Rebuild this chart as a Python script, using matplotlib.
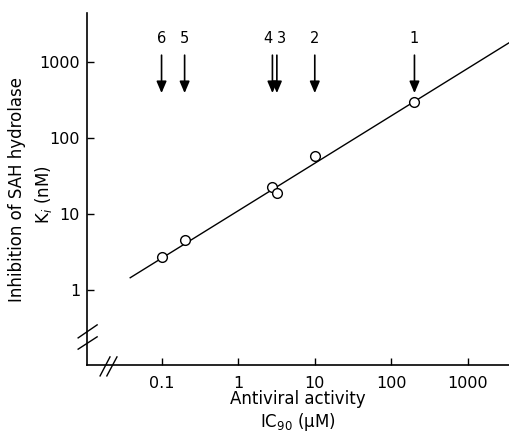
import matplotlib
matplotlib.use("Agg")
import matplotlib.pyplot as plt
from matplotlib.lines import Line2D

plt.rcParams['font.family'] = ['DejaVu Sans']
plt.rcParams['mathtext.fontset'] = 'dejavusans'

# Data
ic90 = [0.1, 0.2, 2.8, 3.2, 10, 200]          # µM
ki = [2.75, 4.6, 23, 19, 58, 300]              # nM
labels = ["6", "5", "4", "3", "2", "1"]
fit_x = [0.039, 3400]
fit_y = [1.45, 1780]
xticks = [0.1, 1, 10, 100, 1000]
xticklabels = ["0.1", "1", "10", "100", "1000"]
yticks = [1, 10, 100, 1000]
yticklabels = ["1", "10", "100", "1000"]

W, H = 509, 433
fig = plt.figure(figsize=(W/100, H/100), dpi=100)
ax = fig.add_axes([87/W, 68/H, 422/W, 352/H])
ax.set_xscale('log')
ax.set_yscale('log')
ax.set_xlim(10**-1.973, 10**3.535)
ax.set_ylim(10**-0.987, 10**3.645)

ax.plot(fit_x, fit_y, color='black', lw=1.0, zorder=2)
ax.plot(ic90, ki, 'o', mfc='white', mec='black', mew=1.0, ms=7, zorder=3)

arrow_top = 1230
arrow_tip = 390
label_y = 2050
for xv, lab in zip(ic90, labels):
    ax.annotate('', xy=(xv, arrow_tip), xytext=(xv, arrow_top),
                arrowprops=dict(arrowstyle='-|>,head_length=0.7,head_width=0.3',
                                color='black', lw=1.2, shrinkA=0, shrinkB=0))
label_offsets = {"4": -3, "3": 3}
for xv, lab in zip(ic90, labels):
    ax.annotate(lab, xy=(xv, label_y), xytext=(label_offsets.get(lab, 0), 0),
                textcoords='offset points', ha='center', va='center', fontsize=10.5)

for s in ['top', 'right']:
    ax.spines[s].set_visible(False)
for s in ['left', 'bottom']:
    ax.spines[s].set_linewidth(1.2)

ax.set_xticks(xticks)
ax.set_xticklabels(xticklabels)
ax.set_yticks(yticks)
ax.set_yticklabels(yticklabels)
ax.minorticks_off()
ax.tick_params(direction='in', length=5, width=1.0, labelsize=11.5)
ax.tick_params(axis='y', pad=5)
ax.tick_params(axis='x', pad=8)

# axis titles
fig.text(298/W, 1 - 399/H, "Antiviral activity", ha='center', va='center', fontsize=12)
fig.text(298/W, 1 - 422/H, "IC$_{90}$ (µM)", ha='center', va='center', fontsize=12)
fig.text(17/W, 1 - 190/H, "Inhibition of SAH hydrolase", ha='center', va='center',
         rotation=90, fontsize=12)
fig.text(44/W, 1 - 195/H, "K$_i$ (nM)", ha='center', va='center', rotation=90, fontsize=12)

# axis break marks
for (x0, y0, x1, y1) in [(-0.021, 0.077, 0.024, 0.114), (-0.021, 0.045, 0.024, 0.080),
                         (0.031, -0.031, 0.0545, 0.023), (0.047, -0.031, 0.071, 0.023)]:
    ax.add_line(Line2D([x0, x1], [y0, y1], transform=ax.transAxes, color='black',
                       lw=1.0, clip_on=False))

fig.savefig("out.png", dpi=100)
